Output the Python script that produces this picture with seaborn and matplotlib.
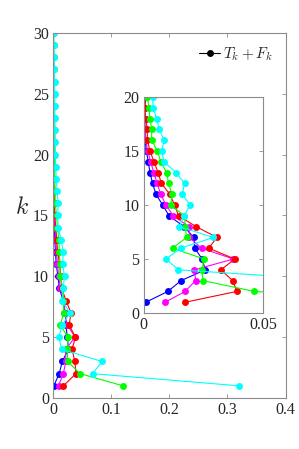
import numpy as np
import pandas as pd
import matplotlib
matplotlib.use('Agg')
import matplotlib.pyplot as plt
from matplotlib.lines import Line2D
import seaborn as sns

k = list(range(1, 31))

blue = [0.001, 0.0102, 0.0157, 0.0259, 0.0245, 0.0215, 0.021, 0.017, 0.0107, 0.008,
        0.0052, 0.0038, 0.0027, 0.002, 0.0012, 0.0006, 0.0005, 0.0004, 0.0003, 0.0003,
        0.0003, 0.0003, 0.0002, 0.0002, 0.0002, 0.0002, 0.0001, 0.0001, 0.0001, 0.0001]
magenta = [0.0091, 0.0174, 0.0218, 0.0213, 0.0376, 0.0243, 0.0192, 0.019, 0.0125, 0.0094,
           0.0072, 0.0057, 0.0043, 0.003, 0.0018, 0.0009, 0.0008, 0.0005, 0.0004, 0.0006,
           0.0005, 0.0005, 0.0004, 0.0004, 0.0003, 0.0003, 0.0003, 0.0002, 0.0002, 0.0002]
red = [0.0175, 0.0391, 0.0373, 0.0324, 0.0382, 0.0273, 0.0307, 0.022, 0.0147, 0.013,
       0.011, 0.0075, 0.0061, 0.0044, 0.0027, 0.0016, 0.0016, 0.0009, 0.0006, 0.001,
       0.0009, 0.0008, 0.0007, 0.0006, 0.0005, 0.0005, 0.0004, 0.0004, 0.0003, 0.0003]
green = [0.12, 0.0464, 0.0248, 0.0245, 0.0253, 0.0122, 0.018, 0.0175, 0.0171, 0.0114,
         0.0119, 0.0105, 0.0097, 0.0072, 0.0058, 0.0034, 0.0034, 0.0027, 0.0023, 0.0016,
         0.0015, 0.0013, 0.0012, 0.001, 0.0009, 0.0008, 0.0007, 0.0006, 0.0005, 0.0004]
cyan = [0.32, 0.068, 0.084, 0.0146, 0.0094, 0.0156, 0.0292, 0.015, 0.017, 0.0195,
        0.0162, 0.0172, 0.0136, 0.0086, 0.0076, 0.0086, 0.0066, 0.0055, 0.0041, 0.0038,
        0.0036, 0.0033, 0.003, 0.0028, 0.0026, 0.0024, 0.0021, 0.0018, 0.0015, 0.0012]

series = {'blue': blue, 'magenta': magenta, 'red': red, 'green': green, 'cyan': cyan}
palette = {'blue': '#0000ff', 'magenta': '#ff00ff', 'red': '#ff0000',
           'green': '#00ff00', 'cyan': '#00ffff'}

df = pd.concat([pd.DataFrame({'k': k, 'val': v, 'run': name}) for name, v in series.items()],
               ignore_index=True)

sns.set_style('ticks')
plt.rcParams['font.family'] = ['Liberation Serif', 'DejaVu Serif']
plt.rcParams['mathtext.fontset'] = 'cm'
plt.rcParams['xtick.direction'] = 'in'
plt.rcParams['ytick.direction'] = 'in'

spine_c = '#8c8c8c'

fig = plt.figure(figsize=(2.99, 4.49), dpi=100)
ax = fig.add_axes([0.178, 0.1136, 0.777, 0.813])


def draw(a):
    sns.lineplot(data=df, x='val', y='k', hue='run', palette=palette, sort=False,
                 estimator=None, marker='o', markersize=5, markeredgewidth=0,
                 linewidth=0.8, legend=False, ax=a)
    for s in a.spines.values():
        s.set_visible(True)
        s.set_color(spine_c)
        s.set_linewidth(0.8)
    a.tick_params(which='both', direction='in', length=3, width=0.6, color=spine_c,
                  labelsize=11.5, labelcolor='#262626', top=True, right=True,
                  labeltop=False, labelright=False, pad=3)
    a.set_xlabel('')
    a.set_ylabel('')


draw(ax)
ax.set_xlim(0, 0.4)
ax.set_ylim(0, 30)
ax.set_xticks([0, 0.1, 0.2, 0.3, 0.4])
ax.set_xticklabels(['0', '0.1', '0.2', '0.3', '0.4'])
ax.set_yticks([0, 5, 10, 15, 20, 25, 30])
ax.set_ylabel('$k$', fontsize=17, rotation=0)
ax.yaxis.set_label_coords(-0.135, 0.49)

handle = Line2D([], [], color='k', marker='o', markersize=5, markeredgewidth=0, linewidth=0.8)
ax.legend([handle], ['$T_k + F_k$'], loc='upper right', frameon=False, fontsize=11,
          handlelength=1.4, handletextpad=0.2, borderaxespad=0.4)

ins = fig.add_axes([0.48, 0.3029, 0.3996, 0.481])
draw(ins)
ins.set_xlim(0, 0.05)
ins.set_ylim(0, 20)
ins.set_xticks([0, 0.05])
ins.set_xticklabels(['0', '0.05'])
ins.set_yticks([0, 5, 10, 15, 20])
ins.set_facecolor('white')

fig.savefig('out.png', dpi=100)
